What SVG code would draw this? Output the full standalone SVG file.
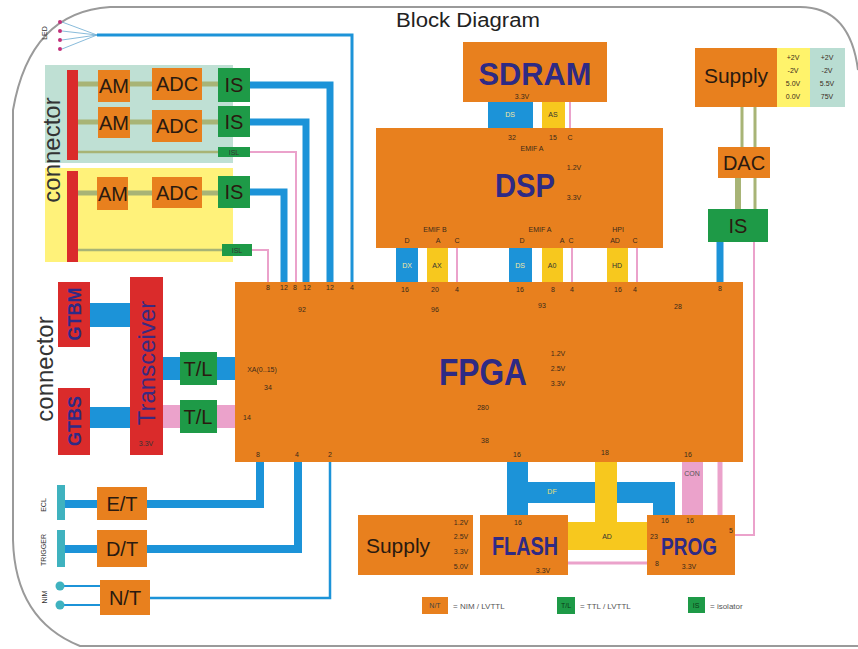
<svg xmlns="http://www.w3.org/2000/svg" width="858" height="649" viewBox="0 0 858 649">
<style>
text{font-family:"Liberation Sans",Arial,sans-serif}
.or{fill:#E8801E}
.rd{fill:#DA2B2B}
.gr{fill:#1E9A47}
.bl{fill:#1C93D8}
.ye{fill:#F7C81E}
.pk{fill:#EBA2CB}
.lbl{font-size:20px;fill:#2a1a10;text-anchor:middle}
.big{font-weight:bold;fill:#2E2A85;text-anchor:middle}
.pin{font-size:7px;fill:#3a2a1a;text-anchor:middle}
.bus{font-size:7px;text-anchor:middle}
.bw{stroke:#1C93D8;fill:none}
.pw{stroke:#EBA2CB;fill:none}
.ol{stroke:#A8B476;fill:none}
.side{font-size:24px;fill:#333;text-anchor:middle}
.tiny{font-size:7px;fill:#333;text-anchor:middle}
</style>

<!-- frame -->
<path d="M858,70 Q850,7 800,7 H110 Q30,12 13,110 V540 Q15,620 80,646 H858" fill="none" stroke="#9a9a9a" stroke-width="2"/>
<text x="468" y="27" font-size="20" fill="#222" text-anchor="middle" textLength="144" lengthAdjust="spacingAndGlyphs">Block Diagram</text>

<!-- connector regions -->
<rect x="45" y="65" width="188" height="98" fill="#BFE0D4"/>
<rect x="45" y="168" width="188" height="94" fill="#FFF27A"/>
<text class="side" transform="translate(60,150) rotate(-90)">connector</text>
<text class="side" transform="translate(53,369) rotate(-90)">connector</text>
<text class="tiny" font-size="9" transform="translate(47,33) rotate(-90)">LED</text>
<text class="tiny" transform="translate(46,505) rotate(-90)">ECL</text>
<text class="tiny" transform="translate(46,550) rotate(-90)">TRIGGER</text>
<text class="tiny" transform="translate(47,597) rotate(-90)">NIM</text>

<g id="connectors">
  <!-- LED fan -->
  <g stroke="#6aaad0" stroke-width="0.8" fill="none">
    <path d="M62,22 L97,35 M62,31 L97,35 M62,40 L97,35 M62,49 L97,35"/>
  </g>
  <path class="bw" stroke-width="3" d="M97,35 H352 V282"/>
  <!-- analog chain lines -->
  <path class="ol" stroke-width="5" d="M78,84 H218 M78,122 H218 M78,193 H218"/>
  <path class="ol" stroke-width="2.5" d="M78,152 H218 M78,250 H222"/>
  <!-- IS to FPGA -->
  <path class="bw" stroke-width="7" d="M250,85 H330 V282"/>
  <path class="bw" stroke-width="7" d="M250,122 H306 V282"/>
  <path class="bw" stroke-width="7" d="M250,192 H284 V282"/>
  <path class="pw" stroke-width="2" d="M250,152 H296 V282"/>
  <path class="pw" stroke-width="2" d="M252,250 H268 V282"/>
  <!-- GTB -->
  <rect class="bl" x="90" y="303" width="40" height="24"/>
  <rect class="bl" x="90" y="407" width="40" height="21"/>
  <rect class="bl" x="163" y="357" width="72" height="23"/>
  <rect class="pk" x="163" y="405" width="72" height="23"/>
  <!-- bottom left -->
  <path class="bw" stroke-width="8" d="M65,504 H97 M147,504 H260 V462"/>
  <path class="bw" stroke-width="8" d="M65,549 H97 M147,549 H298 V462"/>
  <path class="bw" stroke-width="2.5" d="M150,598 H330 V462"/>
  <path class="bw" stroke-width="2" d="M60,586 H100 M60,605 H100"/>
  <!-- SDRAM-DSP -->
  <rect class="bl" x="488" y="102" width="45" height="26"/>
  <rect class="ye" x="542" y="102" width="23" height="26"/>
  <path class="pw" stroke-width="2" d="M570,102 V128"/>
  <text class="bus" x="510" y="117" fill="#F5E9A0">DS</text>
  <text class="bus" x="553" y="117" fill="#333">AS</text>
  <!-- DSP-FPGA -->
  <rect class="bl" x="396" y="248" width="22" height="34"/>
  <rect class="ye" x="427" y="248" width="21" height="34"/>
  <path class="pw" stroke-width="2" d="M457,248 V282"/>
  <rect class="bl" x="509" y="248" width="23" height="34"/>
  <rect class="ye" x="542" y="248" width="21" height="34"/>
  <path class="pw" stroke-width="2" d="M572,248 V282"/>
  <rect class="ye" x="607" y="248" width="21" height="34"/>
  <path class="pw" stroke-width="2" d="M637,248 V282"/>
  <text class="bus" x="407" y="268" fill="#F5E9A0">DX</text>
  <text class="bus" x="437" y="268" fill="#333">AX</text>
  <text class="bus" x="520" y="268" fill="#F5E9A0">DS</text>
  <text class="bus" x="552" y="268" fill="#333">A0</text>
  <text class="bus" x="617" y="268" fill="#333">HD</text>
  <!-- supply / DAC / IS -->
  <path class="ol" stroke-width="3" d="M742,107 V147 M755,107 V210"/>
  <path class="ol" stroke-width="6" d="M738,178 V210"/>
  <path class="bw" stroke-width="7" d="M720,242 V282"/>
  <path class="pw" stroke-width="2" d="M754,242 V535 H735"/>
  <!-- FLASH / PROG buses -->
  <path class="bl" d="M507,462 H528 V482 H675 V515 H653 V503 H528 V515 H507 Z"/>
  <text class="bus" x="552" y="494" fill="#E8E070">DF</text>
  <path class="ye" d="M595,462 H617 V522 H647 V550 H567 V522 H595 Z"/>
  <text class="bus" x="607" y="539" fill="#333">AD</text>
  <path class="pw" stroke-width="3" d="M567,563 H647"/>
  <rect class="pk" x="682" y="462" width="21" height="53"/>
  <text class="bus" x="692" y="476" fill="#555" font-size="6">CON</text>
  <path class="pw" stroke-width="5" d="M720,462 V515"/>
</g>

<!-- analog section nodes -->
<g id="conn-bar-1"><rect class="rd" x="67" y="70" width="11" height="90"/></g>
<g id="conn-bar-2"><rect class="rd" x="67" y="171" width="11" height="91"/></g>
<g id="am1"><rect class="or" x="98" y="70" width="32" height="32"/><text class="lbl" x="114" y="93">AM</text></g>
<g id="adc1"><rect class="or" x="152" y="68" width="50" height="32"/><text class="lbl" x="177" y="91">ADC</text></g>
<g id="is1"><rect class="gr" x="218" y="68" width="32" height="34"/><text class="lbl" x="234" y="92">IS</text></g>
<g id="am2"><rect class="or" x="98" y="107" width="32" height="31"/><text class="lbl" x="114" y="130">AM</text></g>
<g id="adc2"><rect class="or" x="152" y="110" width="50" height="32"/><text class="lbl" x="177" y="133">ADC</text></g>
<g id="is2"><rect class="gr" x="218" y="106" width="32" height="31"/><text class="lbl" x="234" y="129">IS</text></g>
<g id="is3"><rect class="gr" x="218" y="147" width="32" height="10"/><text class="tiny" x="234" y="155" fill="#0c3a18">ISL</text></g>
<g id="am3"><rect class="or" x="97" y="177" width="31" height="33"/><text class="lbl" x="113" y="201">AM</text></g>
<g id="adc3"><rect class="or" x="152" y="177" width="50" height="31"/><text class="lbl" x="177" y="200">ADC</text></g>
<g id="is4"><rect class="gr" x="218" y="176" width="32" height="32"/><text class="lbl" x="234" y="199">IS</text></g>
<g id="is5"><rect class="gr" x="222" y="244" width="30" height="12"/><text class="tiny" x="237" y="253" fill="#0c3a18">ISL</text></g>

<!-- LED dots -->
<g id="led" fill="#C2307A">
  <circle cx="60" cy="22" r="2"/><circle cx="60" cy="31" r="2"/><circle cx="60" cy="40" r="2"/><circle cx="60" cy="49" r="2"/>
</g>

<!-- GTB section -->
<g id="gtbm"><rect class="rd" x="58" y="282" width="32" height="65"/><text class="big" font-size="18" transform="translate(81,314) rotate(-90)">GTBM</text></g>
<g id="gtbs"><rect class="rd" x="58" y="388" width="32" height="67"/><text class="big" font-size="18" transform="translate(81,421) rotate(-90)">GTBS</text></g>
<g id="transceiver"><rect class="rd" x="130" y="277" width="33" height="178"/><text font-size="24" fill="#3a2a80" text-anchor="middle" transform="translate(155,363) rotate(-90)">Transceiver</text><text class="tiny" x="146" y="446" fill="#5a2020" font-size="6">3.3V</text></g>
<g id="tl1"><rect class="gr" x="180" y="352" width="37" height="33"/><text class="lbl" x="198" y="376" font-size="18">T/L</text></g>
<g id="tl2"><rect class="gr" x="180" y="400" width="37" height="33"/><text class="lbl" x="198" y="424" font-size="18">T/L</text></g>

<!-- bottom left -->
<g id="ecl"><rect x="57" y="485" width="8" height="35" fill="#3FB2BF"/></g>
<g id="trigger"><rect x="57" y="530" width="8" height="37" fill="#3FB2BF"/></g>
<g id="nim" fill="#3FB2BF"><circle cx="60" cy="586" r="4.5"/><circle cx="60" cy="605" r="4.5"/></g>
<g id="et"><rect class="or" x="97" y="487" width="50" height="33"/><text class="lbl" x="122" y="511">E/T</text></g>
<g id="dt"><rect class="or" x="97" y="530" width="50" height="37"/><text class="lbl" x="122" y="556">D/T</text></g>
<g id="nt"><rect class="or" x="100" y="580" width="50" height="35"/><text class="lbl" x="125" y="605">N/T</text></g>

<!-- SDRAM -->
<g id="sdram"><rect class="or" x="463" y="42" width="144" height="60"/>
  <text class="big" x="535" y="85" font-size="31" textLength="113" lengthAdjust="spacingAndGlyphs">SDRAM</text>
  <text class="pin" x="522" y="99">3.3V</text></g>

<!-- DSP -->
<g id="dsp"><rect class="or" x="376" y="128" width="287" height="120"/>
  <text class="big" x="525" y="197" font-size="34" textLength="60" lengthAdjust="spacingAndGlyphs">DSP</text>
  <text class="pin" x="574" y="170">1.2V</text>
  <text class="pin" x="574" y="200">3.3V</text>
  <text class="pin" x="512" y="140">32</text><text class="pin" x="553" y="140">15</text><text class="pin" x="570" y="140">C</text>
  <text class="pin" x="532" y="151">EMIF A</text>
  <text class="pin" x="435" y="232">EMIF B</text>
  <text class="pin" x="407" y="243">D</text><text class="pin" x="438" y="243">A</text><text class="pin" x="457" y="243">C</text>
  <text class="pin" x="540" y="232">EMIF A</text>
  <text class="pin" x="522" y="243">D</text><text class="pin" x="562" y="243">A</text><text class="pin" x="571" y="243">C</text>
  <text class="pin" x="618" y="232">HPI</text>
  <text class="pin" x="615" y="243">AD</text><text class="pin" x="635" y="243">C</text>
</g>

<!-- Supply top right -->
<g id="supply-top"><rect class="or" x="695" y="48" width="82" height="59"/>
  <text x="736" y="83" font-size="21" fill="#2a1a10" text-anchor="middle">Supply</text>
  <rect x="777" y="48" width="33" height="59" fill="#FFF36B"/>
  <rect x="810" y="48" width="35" height="59" fill="#B9DDD2"/>
  <text class="pin" x="793" y="60">+2V</text><text class="pin" x="793" y="73">-2V</text><text class="pin" x="793" y="86">5.0V</text><text class="pin" x="793" y="99">0.0V</text>
  <text class="pin" x="827" y="60">+2V</text><text class="pin" x="827" y="73">-2V</text><text class="pin" x="827" y="86">5.5V</text><text class="pin" x="827" y="99">75V</text>
</g>
<g id="dac"><rect class="or" x="718" y="147" width="52" height="31"/><text class="lbl" x="744" y="170">DAC</text></g>
<g id="is-right"><rect class="gr" x="708" y="209" width="60" height="33"/><text class="lbl" x="738" y="233">IS</text></g>

<!-- FPGA -->
<g id="fpga"><rect class="or" x="235" y="282" width="508" height="180"/>
  <text class="big" x="483" y="385" font-size="36" textLength="88" lengthAdjust="spacingAndGlyphs">FPGA</text>
  <text class="pin" x="558" y="356">1.2V</text><text class="pin" x="558" y="371">2.5V</text><text class="pin" x="558" y="386">3.3V</text>
  <text class="pin" x="483" y="410">280</text>
  <text class="pin" x="485" y="443">38</text>
  <text class="pin" x="262" y="372">XA(0..15)</text>
  <text class="pin" x="268" y="390">34</text>
  <text class="pin" x="247" y="420">14</text>
  <text class="pin" x="268" y="290">8</text><text class="pin" x="284" y="290">12</text><text class="pin" x="295" y="290">8</text><text class="pin" x="307" y="290">12</text><text class="pin" x="330" y="290">12</text><text class="pin" x="352" y="290">4</text>
  <text class="pin" x="302" y="312">92</text>
  <text class="pin" x="405" y="292">16</text><text class="pin" x="435" y="292">20</text><text class="pin" x="457" y="292">4</text>
  <text class="pin" x="435" y="312">96</text>
  <text class="pin" x="520" y="292">16</text><text class="pin" x="553" y="292">8</text><text class="pin" x="572" y="292">4</text>
  <text class="pin" x="618" y="292">16</text><text class="pin" x="635" y="292">4</text>
  <text class="pin" x="720" y="291">8</text>
  <text class="pin" x="542" y="308">93</text>
  <text class="pin" x="678" y="309">28</text>
  <text class="pin" x="258" y="457">8</text><text class="pin" x="297" y="457">4</text><text class="pin" x="330" y="457">2</text>
  <text class="pin" x="517" y="457">16</text><text class="pin" x="605" y="455">18</text><text class="pin" x="688" y="457">16</text>
</g>

<!-- bottom -->
<g id="supply-bottom"><rect class="or" x="358" y="515" width="115" height="60"/>
  <text x="398" y="553" font-size="21" fill="#2a1a10" text-anchor="middle">Supply</text>
  <text class="pin" x="461" y="525">1.2V</text><text class="pin" x="461" y="539">2.5V</text><text class="pin" x="461" y="554">3.3V</text><text class="pin" x="461" y="569">5.0V</text>
</g>
<g id="flash"><rect class="or" x="480" y="515" width="88" height="60"/>
  <text class="big" x="525" y="555" font-size="26" textLength="66" lengthAdjust="spacingAndGlyphs">FLASH</text>
  <text class="pin" x="518" y="525">16</text><text class="pin" x="543" y="573">3.3V</text>
</g>
<g id="prog"><rect class="or" x="647" y="515" width="88" height="60"/>
  <text class="big" x="689" y="555" font-size="24" textLength="56" lengthAdjust="spacingAndGlyphs">PROG</text>
  <text class="pin" x="665" y="523">16</text><text class="pin" x="690" y="523">16</text>
  <text class="pin" x="654" y="539">23</text><text class="pin" x="731" y="533">5</text>
  <text class="pin" x="657" y="566">8</text><text class="pin" x="689" y="569">3.3V</text>
</g>

<!-- legend -->
<g id="legend">
  <rect class="or" x="422" y="597" width="26" height="17"/><text class="bus" x="435" y="608" fill="#444" font-size="6">N/T</text>
  <text x="453" y="609" font-size="8" fill="#555">= NIM / LVTTL</text>
  <rect class="gr" x="557" y="597" width="18" height="17"/><text class="bus" x="566" y="608" fill="#0c3a18" font-size="6">T/L</text>
  <text x="580" y="609" font-size="8" fill="#555">= TTL / LVTTL</text>
  <rect class="gr" x="688" y="597" width="17" height="16"/><text class="bus" x="696" y="608" fill="#0c3a18" font-size="6">IS</text>
  <text x="710" y="609" font-size="8" fill="#555">= isolator</text>
</g>
</svg>
